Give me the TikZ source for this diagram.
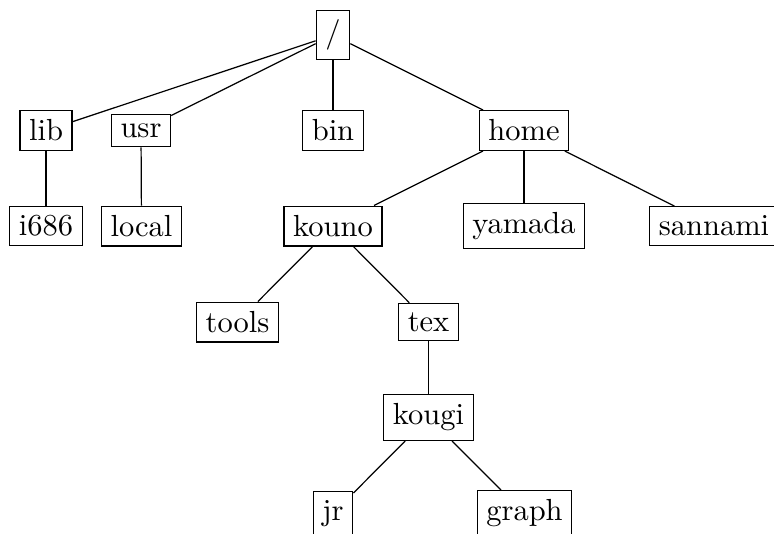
\documentclass[tikz,border=0pt]{standalone}
\begin{document}
\begin{tikzpicture}[x=0.3279pt,y=-0.3279pt,
  dirbox/.style={draw,inner sep=3pt}]
\useasboundingbox (0,0) rectangle (774,533);
\clip (0,0) rectangle (774,533);
\node[dirbox] (root) at (333,35) {/};
\node[dirbox] (lib) at (46,130.5) {lib};
\node[dirbox] (usr) at (141,130.5) {usr};
\node[dirbox] (bin) at (333,130.5) {bin};
\node[dirbox] (home) at (524,130.5) {home};
\node[dirbox] (i686) at (46,226) {i686};
\node[dirbox] (local) at (141.5,226) {local};
\node[dirbox] (kouno) at (333,226) {kouno};
\node[dirbox] (yamada) at (524,226) {yamada};
\node[dirbox] (sannami) at (714,226) {sannami};
\node[dirbox] (tools) at (237.5,322) {tools};
\node[dirbox] (tex) at (428.5,322) {tex};
\node[dirbox] (kougi) at (428.5,417.5) {kougi};
\node[dirbox] (jr) at (333,513.5) {jr};
\node[dirbox] (graph) at (524.5,513.5) {graph};
\draw (root) -- (lib);
\draw (root) -- (usr);
\draw (root) -- (bin);
\draw (root) -- (home);
\draw (lib) -- (i686);
\draw (usr) -- (local);
\draw (home) -- (kouno);
\draw (home) -- (yamada);
\draw (home) -- (sannami);
\draw (kouno) -- (tools);
\draw (kouno) -- (tex);
\draw (tex) -- (kougi);
\draw (kougi) -- (jr);
\draw (kougi) -- (graph);
\end{tikzpicture}
\end{document}
